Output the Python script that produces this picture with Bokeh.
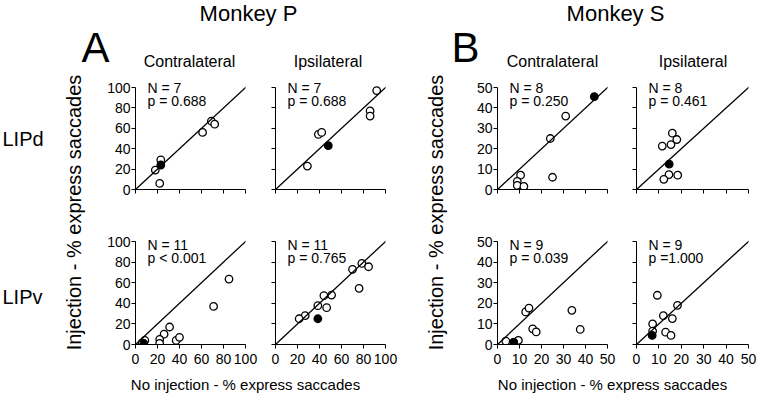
import math
from bokeh.plotting import figure
from bokeh.layouts import row, column
from bokeh.models import Range1d, FixedTicker, Label, Slope
from bokeh.embed import file_html
from bokeh.resources import INLINE

FONT = "Liberation Sans"
K = 0.35  # empirical baseline correction (fraction of font size)

# ---------------- data ----------------
# Monkey P, LIPd
p_contra_d_x = [18, 23, 22, 61, 69, 72]
p_contra_d_y = [19, 29, 6, 56, 67, 64]
p_contra_d_fx = [23]
p_contra_d_fy = [24]
p_ipsi_d_x = [92, 86, 86, 39, 42, 29]
p_ipsi_d_y = [97, 77, 72, 54, 56, 23]
p_ipsi_d_fx = [48]
p_ipsi_d_fy = [43]
# Monkey S, LIPd
s_contra_d_x = [31, 24, 25, 10.5, 9, 9, 12]
s_contra_d_y = [36, 25, 6, 7, 4, 2, 1.5]
s_contra_d_fx = [44]
s_contra_d_fy = [45.5]
s_ipsi_d_x = [16, 18, 15.4, 11.5, 14.5, 12.2, 18.4]
s_ipsi_d_y = [27.6, 24.5, 22, 21.3, 7.3, 5, 7]
s_ipsi_d_fx = [14.6]
s_ipsi_d_fy = [12.4]
# Monkey P, LIPv
p_contra_v_x = [85, 71, 31, 26, 22, 22, 8.5, 37, 40, 6]
p_contra_v_y = [63.5, 37, 17, 10, 5, 1, 4, 4, 7, 1.5]
p_contra_v_fx = [7.5]
p_contra_v_fy = [1]
p_ipsi_v_x = [78.5, 84.6, 70, 76, 51, 44, 46.5, 38.5, 27, 21.5]
p_ipsi_v_y = [78.7, 75.5, 73, 54.5, 48, 47.4, 35.8, 37.7, 28, 25]
p_ipsi_v_fx = [38.5]
p_ipsi_v_fy = [25]
# Monkey S, LIPv
s_contra_v_x = [33.8, 37.6, 16, 17.6, 12.8, 14.3, 9.5, 3.8]
s_contra_v_y = [16.6, 7.3, 7.6, 6.1, 15.8, 17.7, 2, 1.6]
s_contra_v_fx = [7.4]
s_contra_v_fy = [1.2]
s_ipsi_v_x = [9.3, 18.3, 12, 16, 7.2, 13, 15.4, 7.2]
s_ipsi_v_y = [23.9, 19, 14, 12.6, 10, 6, 4.4, 6.5]
s_ipsi_v_fx = [7]
s_ipsi_v_fy = [4.4]

ticks_p = [0, 20, 40, 60, 80, 100]
ticks_s = [0, 10, 20, 30, 40, 50]

stats_n = {"pcd": "N = 7", "pid": "N = 7", "scd": "N = 8", "sid": "N = 8",
           "pcv": "N = 11", "piv": "N = 11", "scv": "N = 9", "siv": "N = 9"}
stats_p = {"pcd": "p = 0.688", "pid": "p = 0.688", "scd": "p = 0.250", "sid": "p = 0.461",
           "pcv": "p < 0.001", "piv": "p = 0.765", "scv": "p = 0.039", "siv": "p =1.000"}

EXTRA = 12  # px of headroom above the axis top so the N/p texts are not clipped
TOP_H = dict(bt=15, fh=102, bb=26, nb=5)
BOT_H = dict(bt=26, fh=103, bb=26, nb=8)
COLS = [dict(bl=35, fw=110, br=15), dict(bl=15, fw=110, br=23),
        dict(bl=34, fw=110, br=15), dict(bl=14, fw=112, br=36)]


def panel(key, ticks, ox, oy, fx, fy, col, rowgeom, show_x, show_y):
    vmax = ticks[-1]
    c = COLS[col]
    r = rowgeom
    ux = vmax / c["fw"]
    uy = vmax / r["fh"]
    p = figure(frame_width=c["fw"], frame_height=r["fh"] + EXTRA,
               x_range=Range1d(0, vmax), y_range=Range1d(0, vmax + EXTRA * uy),
               output_backend="svg", toolbar_location=None,
               min_border_left=c["bl"], min_border_right=c["br"],
               min_border_top=r["bt"] - EXTRA, min_border_bottom=r["bb"])
    p.grid.visible = False
    p.outline_line_color = None
    p.background_fill_color = "white"
    for ax in (p.xaxis[0], p.yaxis[0]):
        ax.ticker = FixedTicker(ticks=ticks)
        ax.bounds = (ticks[0], ticks[-1])
        ax.minor_tick_line_color = None
        ax.major_tick_in = 0
        ax.major_tick_out = 4
        ax.axis_line_color = "black"
        ax.major_tick_line_color = "black"
        ax.axis_line_width = 1
        ax.major_label_text_font = FONT
        ax.major_label_text_font_size = "14px"
        ax.major_label_text_color = "black"
    p.xaxis[0].major_label_standoff = 5
    p.yaxis[0].major_label_standoff = 1
    if not show_x:
        p.xaxis[0].major_label_overrides = {t: "" for t in ticks}
    if not show_y:
        p.yaxis[0].major_label_overrides = {t: "" for t in ticks}

    p.add_layout(Slope(gradient=1, y_intercept=0, line_color="black", line_width=1.3))
    p.scatter(ox, oy, size=7.5, marker="circle", fill_color="white",
              line_color="black", line_width=1.3)
    p.scatter(fx, fy, size=7.5, marker="circle", fill_color="black",
              line_color="black", line_width=1.3)

    x0 = 12 * ux
    shift = K * 14
    y1 = vmax - (r["nb"] - shift) * uy
    y2 = vmax - (r["nb"] + 13 - shift) * uy
    for txt, yy in ((stats_n[key], y1), (stats_p[key], y2)):
        p.add_layout(Label(x=x0, y=yy, text=txt, text_font=FONT,
                           text_font_size="14px", text_color="black",
                           text_align="left", text_baseline="alphabetic"))
    return p


def blank(w, h, x0, x1, y_top, y_bot):
    f = figure(frame_width=w, frame_height=h, x_range=Range1d(x0, x1),
               y_range=Range1d(y_bot, y_top), x_axis_location=None,
               y_axis_location=None, output_backend="svg", toolbar_location=None,
               min_border=0, min_border_left=0, min_border_right=0,
               min_border_top=0, min_border_bottom=0)
    f.grid.visible = False
    f.outline_line_color = None
    return f


def text(f, x, y, s, size, align="center"):
    # y is the wanted baseline in page coordinates (y downwards)
    f.add_layout(Label(x=x, y=y - K * size, text=s, text_font=FONT,
                       text_font_size=f"{size}px", text_color="black",
                       text_align=align, text_baseline="alphabetic"))


def vtext(f, x, y, s, size):
    f.add_layout(Label(x=x, y=y, text=s, text_font=FONT, text_font_size=f"{size}px",
                       text_color="black", text_align="center",
                       text_baseline="middle", angle=math.pi / 2))


# header (page coordinates, y downwards)
header = blank(784, 72, 0, 784, 0, 72)
text(header, 248, 20.7, "Monkey P", 22)
text(header, 615, 20.7, "Monkey S", 22)
text(header, 95, 62, "A", 42)
text(header, 465, 62, "B", 42)
text(header, 189, 67, "Contralateral", 16)
text(header, 327.5, 67, "Ipsilateral", 16)
text(header, 552, 67, "Contralateral", 16)
text(header, 692.5, 67, "Ipsilateral", 16)

# left strip
strip_l = blank(100, 298, 0, 100, 72, 370)
text(strip_l, 2, 145, "LIPd", 20, align="left")
text(strip_l, 2, 303, "LIPv", 20, align="left")
vtext(strip_l, 73, 212, "Injection - % express saccades", 20)

# right strip (between monkeys)
strip_r = blank(55, 298, 408, 463, 72, 370)
vtext(strip_r, 435, 212, "Injection - % express saccades", 20)

# footer
footer = blank(784, 32, 0, 784, 370, 402)
text(footer, 245, 389, "No injection - % express saccades", 15)
text(footer, 612, 389, "No injection - % express saccades", 15)

c1 = column(panel("pcd", ticks_p, p_contra_d_x, p_contra_d_y, p_contra_d_fx, p_contra_d_fy, 0, TOP_H, False, True),
            panel("pcv", ticks_p, p_contra_v_x, p_contra_v_y, p_contra_v_fx, p_contra_v_fy, 0, BOT_H, True, True),
            spacing=0)
c2 = column(panel("pid", ticks_p, p_ipsi_d_x, p_ipsi_d_y, p_ipsi_d_fx, p_ipsi_d_fy, 1, TOP_H, False, False),
            panel("piv", ticks_p, p_ipsi_v_x, p_ipsi_v_y, p_ipsi_v_fx, p_ipsi_v_fy, 1, BOT_H, True, False),
            spacing=0)
c3 = column(panel("scd", ticks_s, s_contra_d_x, s_contra_d_y, s_contra_d_fx, s_contra_d_fy, 2, TOP_H, False, True),
            panel("scv", ticks_s, s_contra_v_x, s_contra_v_y, s_contra_v_fx, s_contra_v_fy, 2, BOT_H, True, True),
            spacing=0)
c4 = column(panel("sid", ticks_s, s_ipsi_d_x, s_ipsi_d_y, s_ipsi_d_fx, s_ipsi_d_fy, 3, TOP_H, False, False),
            panel("siv", ticks_s, s_ipsi_v_x, s_ipsi_v_y, s_ipsi_v_fx, s_ipsi_v_fy, 3, BOT_H, True, False),
            spacing=0)

middle = row(strip_l, c1, c2, strip_r, c3, c4, spacing=0)
layout = column(header, middle, footer, spacing=0)

open("out.html", "w").write(file_html(layout, INLINE, title="Express saccades"))
